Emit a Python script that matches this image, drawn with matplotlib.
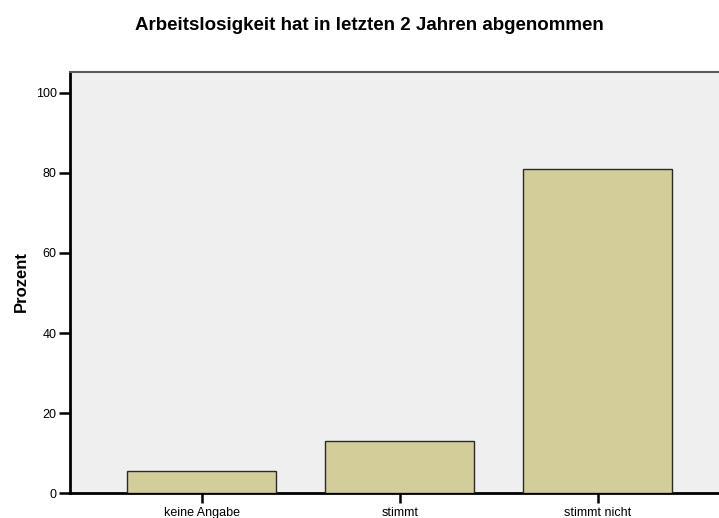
import matplotlib
matplotlib.use("Agg")
from matplotlib import pyplot as plt

categories = ["keine Angabe", "stimmt", "stimmt nicht"]
percent = [5.6, 13.1, 81.0]
y_ticks = [0, 20, 40, 60, 80, 100]

plt.rcParams['font.family'] = ['Liberation Sans', 'DejaVu Sans']

fig = plt.figure(figsize=(7.19, 5.18), dpi=100)
ax = fig.add_axes([70/719, 1 - 493/518, 649/719, 421/518])
ax.set_facecolor('#efefef')

pos = list(range(len(categories)))
ax.bar(pos, percent, width=0.75, color='#d3ce99', edgecolor='#2a2a2a', linewidth=1.0, zorder=3)

ax.set_xlim(-0.665, 2.613)
ax.set_ylim(0, 105.25)
ax.set_xticks(pos)
ax.set_xticklabels(categories, fontsize=9)
ax.set_yticks(y_ticks)
ax.set_yticklabels([str(v) for v in y_ticks], fontsize=9)

ax.tick_params(axis='y', direction='out', length=8, width=1.8, pad=1.5)
ax.tick_params(axis='x', direction='out', length=7, width=1.8, pad=3)

for side in ['left', 'bottom']:
    ax.spines[side].set_linewidth(2.0)
    ax.spines[side].set_color('black')
ax.spines['top'].set_color('#5a5a5a')
ax.spines['top'].set_linewidth(1.5)
ax.spines['right'].set_visible(False)

# y label placed by hand like the original
fig.text(21/719, 1 - 282/518, "Prozent", rotation=90, ha='center', va='center',
         fontsize=12, fontweight='bold')
fig.text(369/719, 1 - 26/518, "Arbeitslosigkeit hat in letzten 2 Jahren abgenommen",
         ha='center', va='center', fontsize=13.5, fontweight='bold')

fig.savefig("out.png", dpi=100)
